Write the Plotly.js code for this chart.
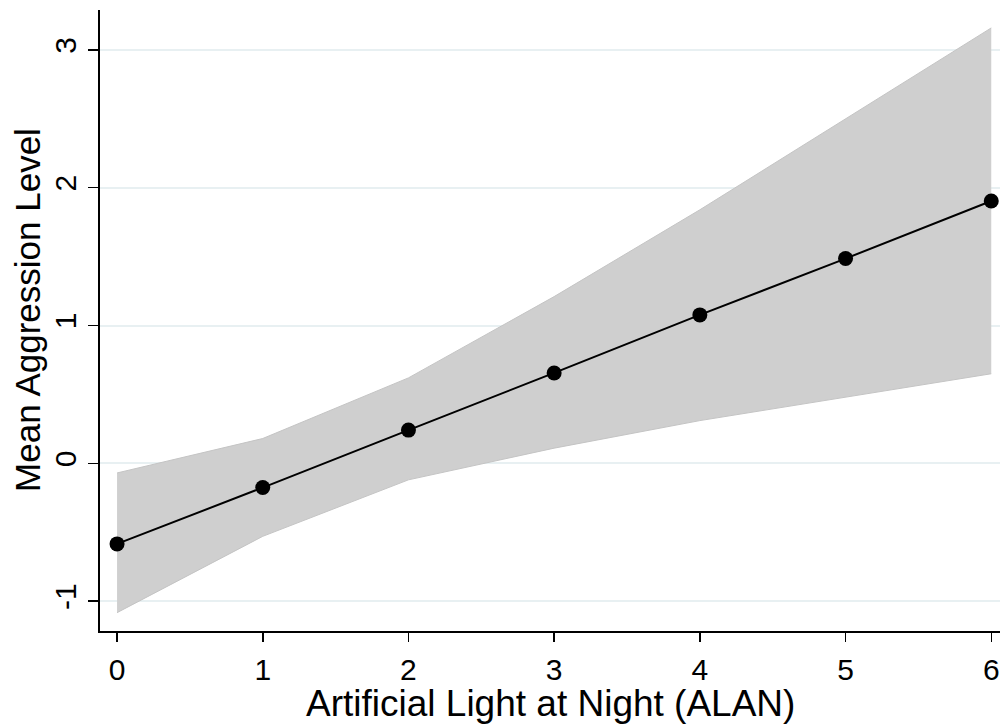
<!DOCTYPE html>
<html>
<head>
<meta charset="utf-8">
<script src="https://cdn.plot.ly/plotly-3.0.1.min.js"></script>
<style>html,body{margin:0;padding:0;background:#fff;}#chart{width:1000px;height:726px;}</style>
</head>
<body>
<div id="chart"></div>
<script>
const alan = [0, 1, 2, 3, 4, 5, 6];
const meanAggression = [-0.585, -0.176, 0.241, 0.656, 1.077, 1.486, 1.904];
const ciUpper = [-0.07, 0.18, 0.62, 1.21, 1.84, 2.50, 3.16];
const ciLower = [-1.084, -0.53, -0.12, 0.11, 0.31, 0.48, 0.65];
const yTicks = [-1, 0, 1, 2, 3];
const xTicks = [0, 1, 2, 3, 4, 5, 6];
const xTitle = 'Artificial Light at Night (ALAN)';
const yTitle = 'Mean Aggression Level';

const font = 'Liberation Sans, Arial, sans-serif';

const traces = [
  {x: alan, y: ciUpper, mode: 'lines', line: {color: '#c4c4c4', width: 1}, hoverinfo: 'skip', showlegend: false},
  {x: alan, y: ciLower, mode: 'lines', fill: 'tonexty', fillcolor: '#cfcfcf', line: {color: '#c4c4c4', width: 1}, hoverinfo: 'skip', showlegend: false},
  {x: alan, y: meanAggression, mode: 'lines+markers', line: {color: '#000000', width: 2}, marker: {color: '#000000', size: 15}, showlegend: false}
];

const layout = {
  width: 1000, height: 726,
  margin: {l: 100, r: 0, t: 10, b: 95},
  paper_bgcolor: '#ffffff', plot_bgcolor: '#ffffff',
  font: {family: font, color: '#000000', size: 30},
  xaxis: {
    range: [-0.117, 6.06],
    tickvals: xTicks,
    ticktext: xTicks.map(String),
    ticks: 'outside', ticklen: 9, tickwidth: 1.5, tickcolor: '#000',
    ticklabelstandoff: 2,
    showgrid: false, zeroline: false,
    showline: true, linecolor: '#000', linewidth: 2,
    tickfont: {family: font, size: 30, color: '#000'}
  },
  yaxis: {
    range: [-1.217, 3.29],
    tickvals: yTicks,
    ticktext: yTicks.map(String),
    tickangle: -90,
    ticks: 'outside', ticklen: 10, tickwidth: 1.5, tickcolor: '#000',
    showgrid: true, gridcolor: '#e8f0f2', gridwidth: 2,
    zeroline: false,
    showline: true, linecolor: '#000', linewidth: 2,
    tickfont: {family: font, size: 30, color: '#000'}
  },
  annotations: [
    {text: xTitle, xref: 'paper', yref: 'paper', x: 0.501, y: -0.116, xanchor: 'center', yanchor: 'middle',
     showarrow: false, font: {family: font, size: 37, color: '#000'}},
    {text: yTitle, xref: 'paper', yref: 'paper', x: -0.08, y: 0.517, xanchor: 'center', yanchor: 'middle',
     textangle: -90, showarrow: false, font: {family: font, size: 35, color: '#000'}}
  ]
};

Plotly.newPlot('chart', traces, layout, {displayModeBar: false, staticPlot: true});
</script>
</body>
</html>
